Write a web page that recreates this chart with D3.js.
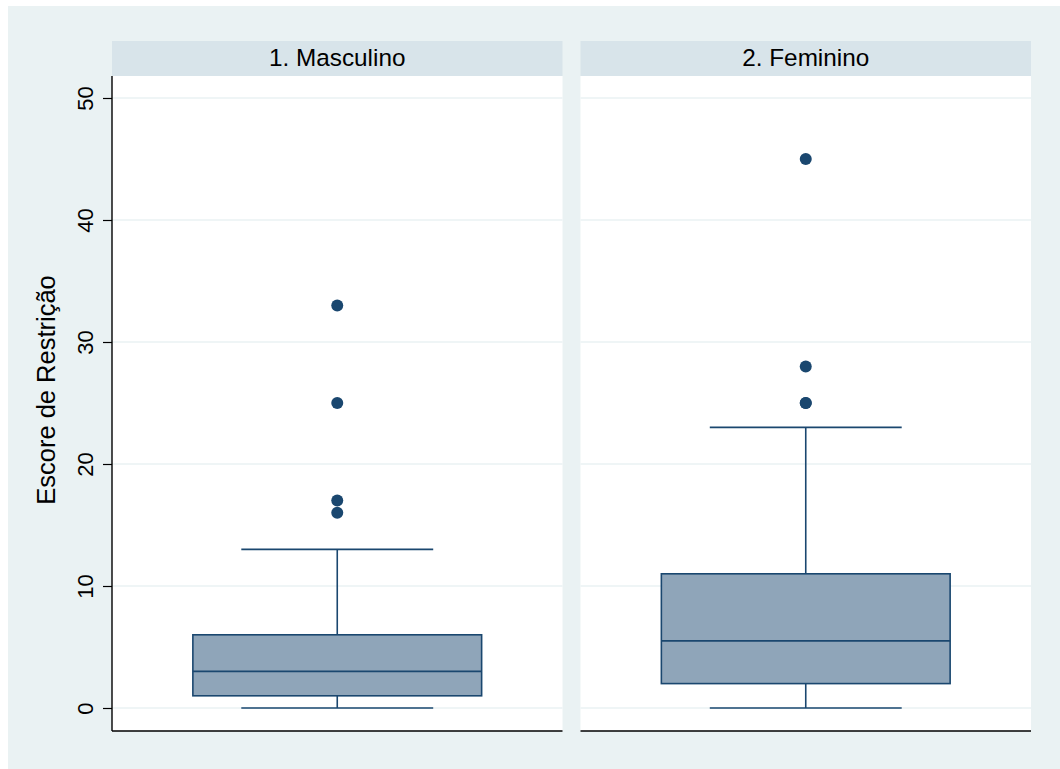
<!DOCTYPE html>
<html>
<head>
<meta charset="utf-8">
<script src="https://cdn.jsdelivr.net/npm/d3@7"></script>
<style>
  html, body { margin: 0; padding: 0; background: #ffffff; }
  svg { display: block; }
  text { font-family: "Liberation Sans", Arial, Helvetica, sans-serif; fill: #000; }
</style>
</head>
<body>
<svg id="chart" width="1060" height="769"></svg>
<script>
// Groups and box-plot summaries of the restriction score
const groups = ["1. Masculino", "2. Feminino"];
const lowerWhisker = [0, 0];
const q1 = [1, 2];
const median = [3, 5.5];
const q3 = [6, 11];
const upperWhisker = [13, 23];
const outliers = [
  [16, 17, 25, 33],
  [25, 25, 28, 45]
];
const yTicks = [0, 10, 20, 30, 40, 50];
const yTitle = "Escore de Restrição";

const W = 1060, H = 769;
const navy = "#1a476f";
const boxFill = "#8fa5b9";
const outerBg = "#eaf2f3";
const stripBg = "#d8e4ea";
const gridCol = "#eaf2f3";

const svg = d3.select("#chart");

// graph region
svg.append("rect").attr("x", 8).attr("y", 6).attr("width", W - 8).attr("height", H - 6)
  .attr("fill", outerBg);

const stripTop = 41, plotTop = 76, plotBottom = 731;

const x = d3.scaleBand().domain(groups).range([112, 1031]).paddingInner(0.0384).paddingOuter(0);
const y = d3.scaleLinear().domain([0, 50]).range([708, 98]);

// position inside each panel (0..1)
const inner = d3.scaleLinear().domain([0, 1]).range([0, x.bandwidth()]);
const boxHalf = 0.3205, capHalf = 0.213;

groups.forEach((g, i) => {
  const x0 = x(g), bw = x.bandwidth();
  const cx = x0 + inner(0.5);
  const p = svg.append("g");

  // panel header strip
  p.append("rect").attr("x", x0).attr("y", stripTop).attr("width", bw).attr("height", plotTop - stripTop)
    .attr("fill", stripBg);
  p.append("text").attr("x", cx).attr("y", 66).attr("text-anchor", "middle")
    .attr("font-size", 24.3).attr("fill", "#111").text(g);

  // plot region
  p.append("rect").attr("x", x0).attr("y", plotTop).attr("width", bw).attr("height", plotBottom - plotTop)
    .attr("fill", "#ffffff");

  // gridlines
  p.selectAll("line.grid").data(yTicks).join("line")
    .attr("class", "grid")
    .attr("x1", x0).attr("x2", x0 + bw)
    .attr("y1", d => y(d)).attr("y2", d => y(d))
    .attr("stroke", gridCol).attr("stroke-width", 1.6);

  // whiskers
  p.append("line").attr("x1", cx).attr("x2", cx)
    .attr("y1", y(q3[i])).attr("y2", y(upperWhisker[i]))
    .attr("stroke", navy).attr("stroke-width", 1.6);
  p.append("line").attr("x1", cx).attr("x2", cx)
    .attr("y1", y(q1[i])).attr("y2", y(lowerWhisker[i]))
    .attr("stroke", navy).attr("stroke-width", 1.6);
  [upperWhisker[i], lowerWhisker[i]].forEach(v => {
    p.append("line")
      .attr("x1", x0 + inner(0.5 - capHalf)).attr("x2", x0 + inner(0.5 + capHalf))
      .attr("y1", y(v)).attr("y2", y(v))
      .attr("stroke", navy).attr("stroke-width", 1.6);
  });

  // box
  p.append("rect")
    .attr("x", x0 + inner(0.5 - boxHalf)).attr("width", inner(2 * boxHalf))
    .attr("y", y(q3[i])).attr("height", y(q1[i]) - y(q3[i]))
    .attr("fill", boxFill).attr("stroke", navy).attr("stroke-width", 1.6);
  p.append("line")
    .attr("x1", x0 + inner(0.5 - boxHalf)).attr("x2", x0 + inner(0.5 + boxHalf))
    .attr("y1", y(median[i])).attr("y2", y(median[i]))
    .attr("stroke", navy).attr("stroke-width", 1.6);

  // outside values
  p.selectAll("circle").data(outliers[i]).join("circle")
    .attr("cx", cx).attr("cy", d => y(d)).attr("r", 6).attr("fill", navy);

  // bottom axis line
  p.append("line").attr("x1", x0).attr("x2", x0 + bw)
    .attr("y1", plotBottom).attr("y2", plotBottom)
    .attr("stroke", "#000").attr("stroke-width", 1.4);
});

// y axis on the first panel
const yAxis = svg.append("g").attr("transform", `translate(${x(groups[0])},0)`)
  .call(d3.axisLeft(y).tickValues(yTicks).tickSize(9).tickPadding(0).tickFormat(d3.format("d")));
yAxis.select(".domain").remove();
yAxis.selectAll(".tick line").attr("stroke", "#000").attr("stroke-width", 1.2);
yAxis.selectAll(".tick text")
  .attr("x", null).attr("dy", null)
  .attr("transform", "translate(-19,0) rotate(-90)")
  .attr("text-anchor", "middle")
  .attr("font-size", 22)
  .attr("font-family", "Liberation Sans, Arial, sans-serif")
  .attr("fill", "#000");
svg.append("line").attr("x1", x(groups[0])).attr("x2", x(groups[0]))
  .attr("y1", plotTop).attr("y2", plotBottom)
  .attr("stroke", "#000").attr("stroke-width", 1.4);

// y axis title
svg.append("text")
  .attr("transform", "translate(55,390) rotate(-90)")
  .attr("text-anchor", "middle").attr("font-size", 25.5).attr("fill", "#000")
  .text(yTitle);
</script>
</body>
</html>
